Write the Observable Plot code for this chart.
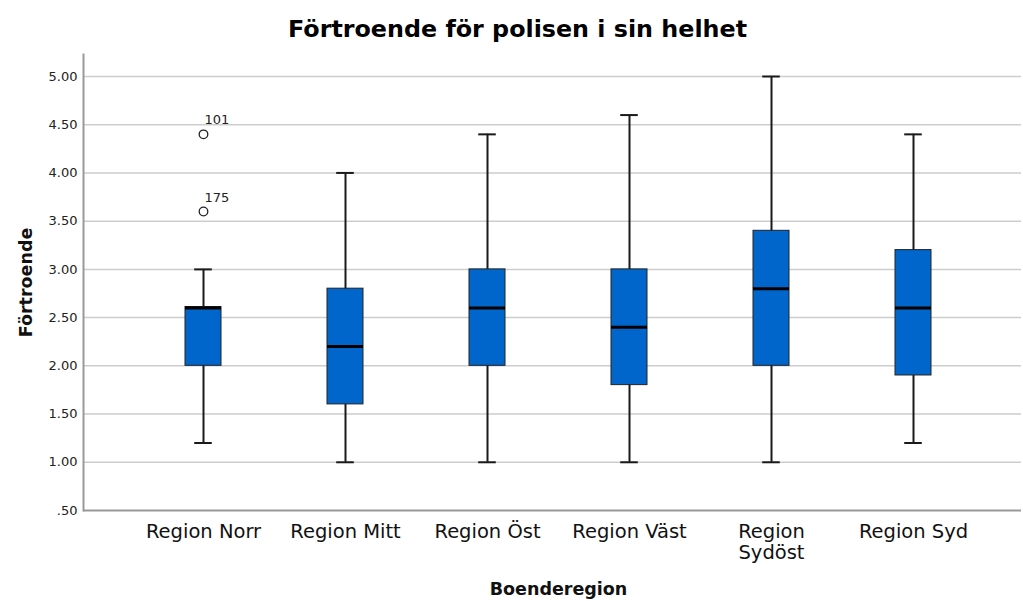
<!DOCTYPE html>
<html>
<head>
<meta charset="utf-8">
<script src="https://cdn.jsdelivr.net/npm/d3@7"></script>
<script src="https://cdn.jsdelivr.net/npm/@observablehq/plot@0.6"></script>
<style>
  html, body { margin: 0; padding: 0; background: #fff; }
  #chart svg { display: block; }
</style>
</head>
<body>
<div id="chart"></div>
<script>
const regions = ["Region Norr", "Region Mitt", "Region Öst", "Region Väst", "Region Sydöst", "Region Syd"];
const regionLabels = ["Region Norr", "Region Mitt", "Region Öst", "Region Väst", "Region\nSydöst", "Region Syd"];
const whiskerLow = [1.2, 1.0, 1.0, 1.0, 1.0, 1.2];
const q1 = [2.0, 1.6, 2.0, 1.8, 2.0, 1.9];
const median = [2.6, 2.2, 2.6, 2.4, 2.8, 2.6];
const q3 = [2.61, 2.8, 3.0, 3.0, 3.4, 3.2];
const whiskerHigh = [3.0, 4.0, 4.4, 4.6, 5.0, 4.4];
const outlierRegion = ["Region Norr", "Region Norr"];
const outlierValue = [4.4, 3.6];
const outlierLabel = ["101", "175"];
const yTicks = [0.5, 1, 1.5, 2, 2.5, 3, 3.5, 4, 4.5, 5];
const gridTicks = [1, 1.5, 2, 2.5, 3, 3.5, 4, 4.5, 5];
const title = "Förtroende för polisen i sin helhet";
const xTitle = "Boenderegion";
const yTitle = "Förtroende";

const boxes = regions.map((r, i) => ({
  region: r, low: whiskerLow[i], q1: q1[i], median: median[i], q3: q3[i], high: whiskerHigh[i]
}));
const outliers = outlierValue.map((v, i) => ({region: outlierRegion[i], value: v, label: outlierLabel[i]}));

const font = "'DejaVu Sans', sans-serif";

const chart = Plot.plot({
  width: 1023,
  height: 601,
  marginTop: 54,
  marginBottom: 91,
  marginLeft: 83,
  marginRight: 2,
  style: {fontFamily: font, background: "#fff", color: "#222"},
  x: {type: "band", domain: regions, range: [130.8, 985.2], padding: 0},
  y: {domain: [0.5, 5.228]},
  marks: [
    Plot.ruleY(gridTicks, {stroke: "#cdcdcd", strokeWidth: 1.5}),
    Plot.ruleY([0.5], {stroke: "#999", strokeWidth: 2}),
    Plot.frame({anchor: "left", stroke: "#999", strokeWidth: 2}),
    Plot.axisY({ticks: yTicks, tickSize: 0, tickPadding: 6, fontSize: 13, fill: "#222",
      tickFormat: d => d.toFixed(2).replace(/^0/, ""), label: null}),
    Plot.axisX({tickSize: 0, tickPadding: 12, fontSize: 19.5, fill: "#111", lineHeight: 1.1,
      tickFormat: d => regionLabels[regions.indexOf(d)], label: null}),
    Plot.ruleX(boxes, {x: "region", y1: "low", y2: "high", stroke: "#1a1a1a", strokeWidth: 2}),
    Plot.tickY(boxes, {x: "region", y: "low", stroke: "#1a1a1a", strokeWidth: 2, insetLeft: 62.2, insetRight: 62.2}),
    Plot.tickY(boxes, {x: "region", y: "high", stroke: "#1a1a1a", strokeWidth: 2, insetLeft: 62.2, insetRight: 62.2}),
    Plot.barY(boxes, {x: "region", y1: "q1", y2: "q3", fill: "#0066cc", stroke: "#222", strokeWidth: 1, insetLeft: 53, insetRight: 53}),
    Plot.tickY(boxes, {x: "region", y: "median", stroke: "#000", strokeWidth: 3, insetLeft: 53, insetRight: 53}),
    Plot.dot(outliers, {x: "region", y: "value", r: 4.3, stroke: "#222", strokeWidth: 1.3, fill: "#fff"}),
    Plot.text(outliers, {x: "region", y: "value", text: "label", textAnchor: "start", lineAnchor: "bottom",
      dx: 1, dy: -10, fontSize: 13, fill: "#222"}),
    Plot.text([title], {frameAnchor: "top", dx: -35, dy: -18, lineAnchor: "bottom", fontSize: 23.8, fontWeight: "bold", fill: "#000"}),
    Plot.text([xTitle], {frameAnchor: "bottom", dx: 6, dy: 84, lineAnchor: "bottom", fontSize: 17.5, fontWeight: "bold", fill: "#111"}),
    Plot.text([yTitle], {frameAnchor: "left", dx: -52, dy: 0, rotate: -90, textAnchor: "middle", lineAnchor: "bottom", fontSize: 17.5, fontWeight: "bold", fill: "#111"})
  ]
});
document.getElementById("chart").appendChild(chart);
</script>
</body>
</html>
